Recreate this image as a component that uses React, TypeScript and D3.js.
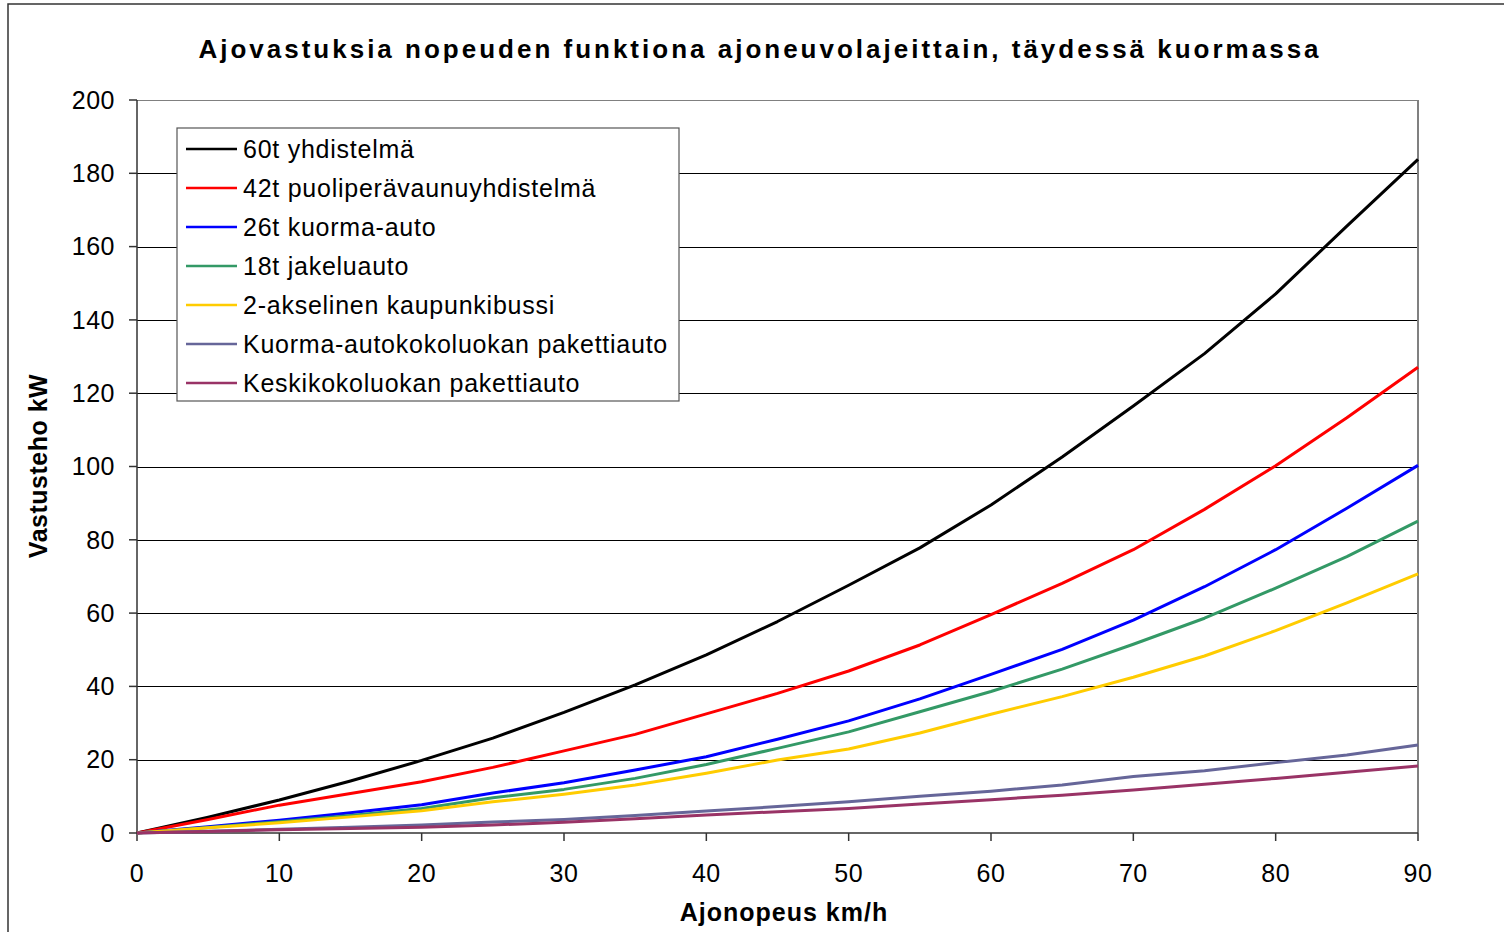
import React from 'react';
import * as d3 from 'd3';

// speeds km/h
const speeds = [0, 5, 10, 15, 20, 25, 30, 35, 40, 45, 50, 55, 60, 65, 70, 75, 80, 85, 90];

const combo60 = [0, 4.3, 9.0, 14.2, 19.8, 25.9, 32.9, 40.4, 48.6, 57.7, 67.6, 77.8, 89.5, 102.6, 116.5, 130.8, 147.1, 165.6, 183.8];
const semi42 = [0, 3.7, 7.6, 10.8, 14.0, 17.9, 22.4, 26.9, 32.5, 38.1, 44.2, 51.3, 59.6, 68.1, 77.3, 88.3, 100.2, 113.3, 127.1];
const truck26 = [0, 1.7, 3.5, 5.5, 7.7, 10.9, 13.7, 17.2, 20.8, 25.6, 30.6, 36.6, 43.3, 50.1, 58.1, 67.2, 77.3, 88.6, 100.3];
const dist18 = [0, 1.5, 3.1, 4.8, 6.7, 9.6, 11.9, 14.9, 18.7, 23.1, 27.6, 33.1, 38.6, 44.7, 51.5, 58.6, 66.8, 75.4, 85.1];
const bus2 = [0, 1.4, 2.8, 4.4, 6.1, 8.5, 10.6, 13.1, 16.3, 19.9, 22.9, 27.3, 32.4, 37.2, 42.5, 48.3, 55.2, 62.8, 70.7];
const vanLarge = [0, 0.5, 1.0, 1.6, 2.2, 3.0, 3.7, 4.8, 6.0, 7.2, 8.5, 10.0, 11.4, 13.1, 15.4, 17.0, 19.2, 21.3, 24.0];
const vanMid = [0, 0.4, 0.9, 1.2, 1.6, 2.2, 2.9, 3.9, 4.9, 5.8, 6.7, 7.9, 9.1, 10.3, 11.7, 13.3, 14.9, 16.6, 18.3];

const seriesNames = [
  '60t yhdistelmä',
  '42t puoliperävaunuyhdistelmä',
  '26t kuorma-auto',
  '18t jakeluauto',
  '2-akselinen kaupunkibussi',
  'Kuorma-autokokoluokan pakettiauto',
  'Keskikokoluokan pakettiauto',
];
const seriesValues = [combo60, semi42, truck26, dist18, bus2, vanLarge, vanMid];
const seriesColors = ['#000000', '#ff0000', '#0000ff', '#339966', '#ffcc00', '#666699', '#993366'];

const xTicks = [0, 10, 20, 30, 40, 50, 60, 70, 80, 90];
const yTicks = [0, 20, 40, 60, 80, 100, 120, 140, 160, 180, 200];

const font = 'Arial, "Liberation Sans", sans-serif';

const App = () => {
  const margin = { left: 137, right: 1418, top: 100, bottom: 833 };
  const x = d3.scaleLinear().domain([0, 90]).range([margin.left, margin.right]);
  const y = d3.scaleLinear().domain([0, 200]).range([margin.bottom, margin.top]);

  const line = d3
    .line<number>()
    .x((_, i) => x(speeds[i]))
    .y((d) => y(d));

  const legend = { x: 177, y: 128, w: 502, h: 273, row: 39 };

  return (
    <svg
      width={1504}
      height={932}
      style={{ position: 'absolute', left: 0, top: 0, background: '#fff' }}
      fontFamily={font}
    >
      <rect x={8} y={4} width={1520} height={950} fill="#fff" stroke="#333" strokeWidth={1.5} />

      <text x={760} y={58} textAnchor="middle" fontSize={26} fontWeight="bold" letterSpacing={3}>
        Ajovastuksia nopeuden funktiona ajoneuvolajeittain, täydessä kuormassa
      </text>

      {/* gridlines */}
      {yTicks.slice(1).map((t) => (
        <line
          key={t}
          x1={margin.left}
          x2={margin.right}
          y1={Math.round(y(t)) + 0.5}
          y2={Math.round(y(t)) + 0.5}
          stroke={t === 200 ? '#808080' : '#000'}
          strokeWidth={1}
        />
      ))}
      <line x1={margin.right} x2={margin.right} y1={margin.top} y2={margin.bottom} stroke="#808080" strokeWidth={2} />

      {/* y axis */}
      <line x1={margin.left} x2={margin.left} y1={margin.top} y2={margin.bottom} stroke="#333" strokeWidth={1.5} />
      {yTicks.map((t) => (
        <g key={t}>
          <line x1={margin.left - 8} x2={margin.left} y1={y(t)} y2={y(t)} stroke="#333" strokeWidth={1.5} />
          <text x={115} y={y(t)} dy="0.35em" textAnchor="end" fontSize={25} letterSpacing={0.5}>
            {t}
          </text>
        </g>
      ))}

      {/* x axis */}
      <line x1={margin.left} x2={margin.right} y1={margin.bottom} y2={margin.bottom} stroke="#333" strokeWidth={1.5} />
      {xTicks.map((t) => (
        <g key={t}>
          <line x1={x(t)} x2={x(t)} y1={margin.bottom} y2={margin.bottom + 8} stroke="#333" strokeWidth={1.5} />
          <text x={x(t)} y={882} textAnchor="middle" fontSize={25} letterSpacing={0.5}>
            {t}
          </text>
        </g>
      ))}

      {/* series */}
      {seriesValues.map((vals, i) => (
        <path
          key={seriesNames[i]}
          d={line(vals) || ''}
          fill="none"
          stroke={seriesColors[i]}
          strokeWidth={3}
          strokeLinejoin="round"
        />
      ))}

      {/* legend */}
      <rect x={legend.x} y={legend.y} width={legend.w} height={legend.h} fill="#fff" stroke="#555" strokeWidth={1.2} />
      {seriesNames.map((name, i) => {
        const cy = legend.y + 21 + i * legend.row;
        return (
          <g key={name}>
            <line x1={186} x2={237} y1={cy} y2={cy} stroke={seriesColors[i]} strokeWidth={2.5} />
            <text x={243} y={cy} dy="0.35em" fontSize={25} letterSpacing={0.75}>
              {name}
            </text>
          </g>
        );
      })}

      <text x={784} y={921} textAnchor="middle" fontSize={25} fontWeight="bold" letterSpacing={1}>
        Ajonopeus km/h
      </text>
      <text
        transform="translate(47,466) rotate(-90)"
        textAnchor="middle"
        fontSize={25}
        fontWeight="bold"
        letterSpacing={0.5}
      >
        Vastusteho kW
      </text>
    </svg>
  );
};

export default App;
